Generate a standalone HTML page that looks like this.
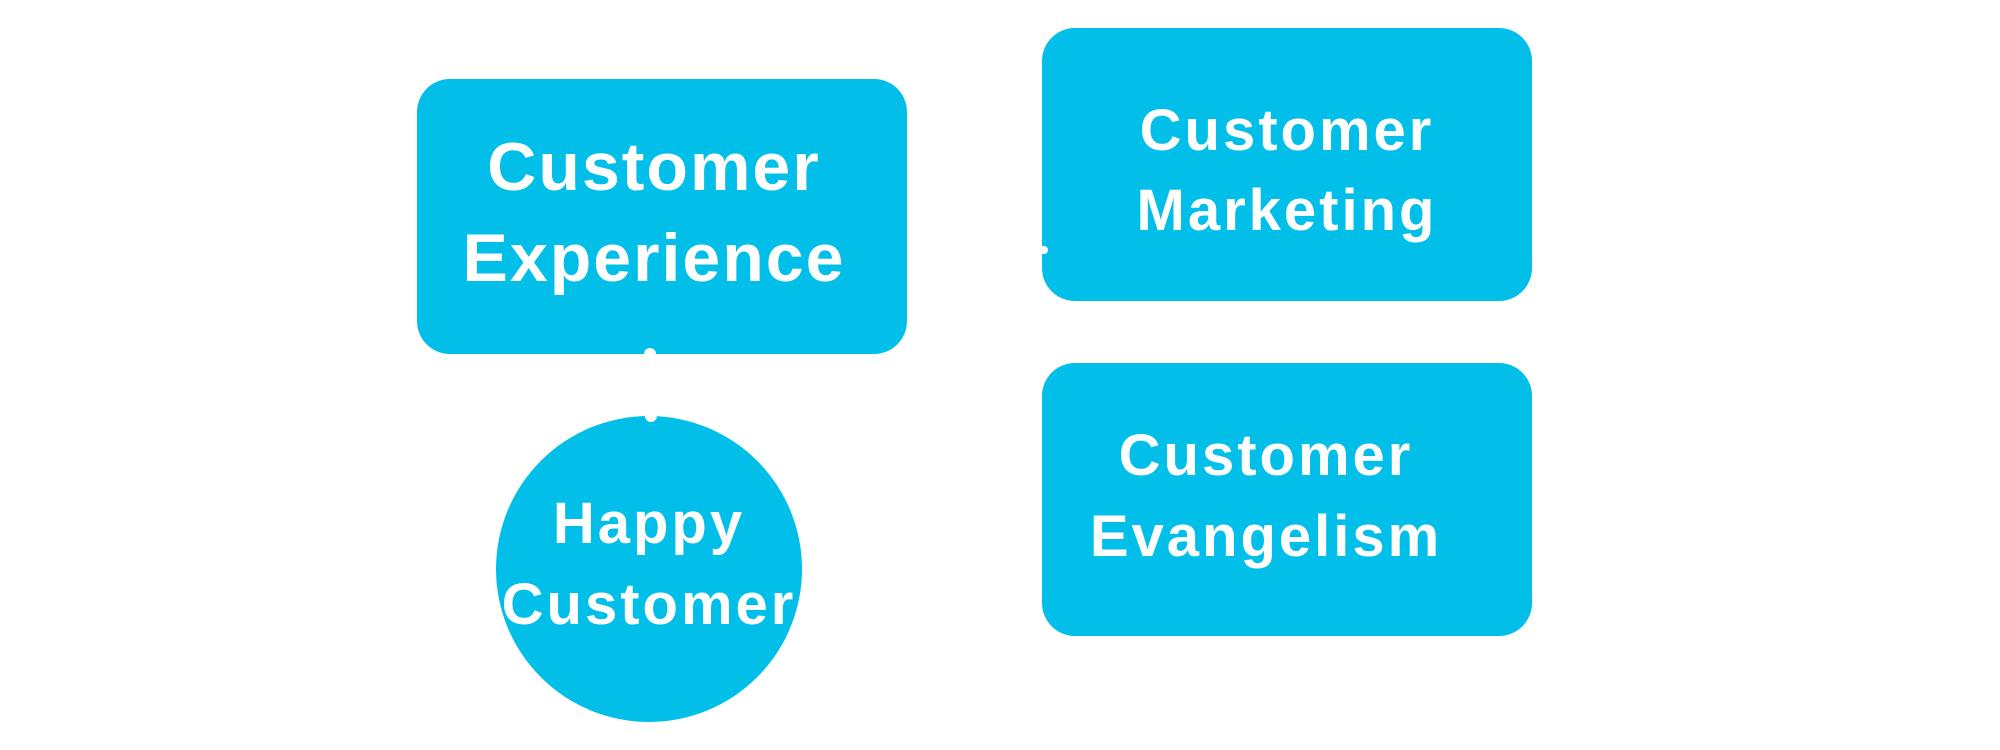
<!DOCTYPE html>
<html><head><meta charset="utf-8"><style>
html,body{margin:0;padding:0;background:#fff;width:2000px;height:750px;overflow:hidden}
.s{position:absolute;background:#01bfe9;color:#fff;font-family:"Liberation Sans",sans-serif;font-weight:bold;text-align:center}
.t{position:absolute;left:0;width:100%;white-space:nowrap}
</style></head><body>
<div class="s" style="left:417px;top:79px;width:490px;height:275px;border-radius:33px">
  <div class="t" style="top:43px;font-size:68px;letter-spacing:2px;line-height:91px;left:-8px">Customer<br>Experience</div>
</div>
<div class="s" style="left:1042px;top:28px;width:490px;height:273px;border-radius:33px">
  <div class="t" style="top:63px;font-size:58px;letter-spacing:3px;line-height:80px">Customer<br>Marketing</div>
</div>
<div class="s" style="left:1042px;top:363px;width:490px;height:273px;border-radius:33px">
  <div class="t" style="top:52px;font-size:58px;letter-spacing:3px;line-height:81px;left:-21px">Customer<br>Evangelism</div>
</div>
<div class="s" style="left:496px;top:416px;width:306px;height:306px;border-radius:50%">
  <div class="t" style="top:67px;font-size:58px;letter-spacing:3px;line-height:81px">Happy<br>Customer</div>
</div>
<div style="position:absolute;left:644px;top:348px;width:12px;height:8px;border-radius:6px 6px 0 0;background:#fff"></div>
<div style="position:absolute;left:645px;top:414px;width:12px;height:8px;border-radius:0 0 6px 6px;background:#fff"></div>
<div style="position:absolute;left:1038px;top:246px;width:10px;height:8px;border-radius:0 4px 4px 0;background:#fff"></div>
</body></html>
